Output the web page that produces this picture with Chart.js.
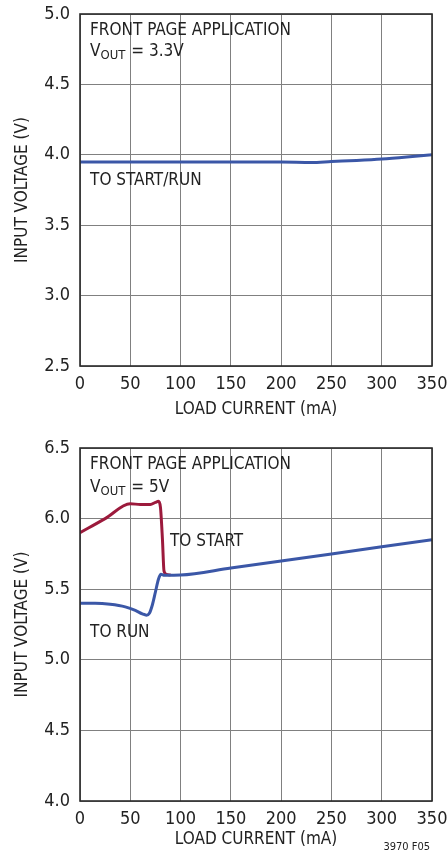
<!DOCTYPE html>
<html>
<head>
<meta charset="utf-8">
<script src="https://cdn.jsdelivr.net/npm/chart.js@4.4.1/dist/chart.umd.min.js"></script>
<style>
  body { margin: 0; background: #fff; }
  canvas { display: block; }
</style>
</head>
<body>
<canvas id="chartTop" width="447" height="425"></canvas>
<canvas id="chartBottom" width="447" height="430"></canvas>
<script>
// top chart: VOUT = 3.3V, START/RUN tied together
var loadCurrent33 = [0, 50, 100, 150, 200, 230, 250, 275, 300, 325, 350];
var vin33 = [3.948, 3.948, 3.948, 3.948, 3.948, 3.945, 3.952, 3.96, 3.97, 3.984, 4.0];

// bottom chart: VOUT = 5V, separate START and RUN thresholds
var startCurrent = [0, 25, 50, 60, 70, 75, 78, 80, 82, 83.5, 86, 90];
var startVolts = [5.9, 6.0, 6.105, 6.1, 6.1, 6.115, 6.122, 6.08, 5.85, 5.63, 5.605, 5.6];
var runCurrent = [0, 15, 30, 45, 55, 62, 66, 69, 72, 75, 78, 80.5, 84, 100, 150, 200, 250, 300, 350];
var runVolts = [5.4, 5.4, 5.393, 5.375, 5.35, 5.325, 5.316, 5.33, 5.39, 5.48, 5.57, 5.605, 5.598, 5.6, 5.65, 5.7, 5.75, 5.8, 5.85];

var xTickValues = [0, 50, 100, 150, 200, 250, 300, 350];

var FONT = '"Liberation Sans Narrow", "DejaVu Sans Condensed", sans-serif';
var BLUE = '#3b57a7';
var RED = '#9c1a3c';

function toPoints(xs, ys) {
    var pts = [];
    for (var i = 0; i < xs.length; i++) pts.push({ x: xs[i], y: ys[i] });
    return pts;
}

// frame + text notes placed in data coordinates
var notesPlugin = {
    id: 'notes',
    afterDraw: function (chart, args, opts) {
        var ctx = chart.ctx;
        var a = chart.chartArea;
        ctx.save();
        ctx.strokeStyle = '#2a2a2a';
        ctx.lineWidth = 1.6;
        ctx.strokeRect(a.left, a.top, a.right - a.left, a.bottom - a.top);
        ctx.fillStyle = '#222';
        ctx.textBaseline = 'middle';
        ctx.textAlign = 'left';
        (opts.items || []).forEach(function (n) {
            var px = chart.scales.x.getPixelForValue(n.x);
            var py = chart.scales.y.getPixelForValue(n.y);
            ctx.font = '17px ' + FONT;
            if (n.sub) {
                ctx.fillText('V', px, py);
                var w = ctx.measureText('V').width;
                ctx.font = '13px ' + FONT;
                ctx.fillText('OUT', px + w, py + 4);
                var w2 = ctx.measureText('OUT').width;
                ctx.font = '17px ' + FONT;
                ctx.fillText(n.text, px + w + w2 + 1, py);
            } else {
                ctx.fillText(n.text, px, py);
            }
        });
        if (opts.footer) {
            ctx.font = '11px ' + FONT;
            ctx.textAlign = 'right';
            ctx.fillText(opts.footer, 430, chart.height - 8);
        }
        ctx.restore();
    }
};

function makeOptions(yMin, yMax, padTop, xHeight, notes, footer) {
    return {
        responsive: false,
        animation: false,
        devicePixelRatio: 1,
        layout: { padding: { top: padTop, right: 15, left: 0, bottom: 0 } },
        plugins: {
            legend: { display: false },
            tooltip: { enabled: false },
            notes: { items: notes, footer: footer }
        },
        elements: { point: { radius: 0 } },
        scales: {
            x: {
                type: 'linear',
                min: 0,
                max: 350,
                afterBuildTicks: function (s) {
                    s.ticks = xTickValues.map(function (v) { return { value: v }; });
                },
                ticks: { font: { family: FONT, size: 18 }, color: '#222', padding: 8, maxRotation: 0, autoSkip: false },
                grid: { color: '#808080', lineWidth: 1, drawTicks: false },
                border: { display: false },
                title: {
                    display: true,
                    text: 'LOAD CURRENT (mA)',
                    font: { family: FONT, size: 17 },
                    color: '#222',
                    padding: { top: 0, bottom: 5 }
                },
                afterFit: function (s) {
                    s.height = xHeight;
                    s.paddingLeft = 0;
                    s.paddingRight = 0;
                }
            },
            y: {
                min: yMin,
                max: yMax,
                ticks: {
                    stepSize: 0.5,
                    font: { family: FONT, size: 18 },
                    color: '#222',
                    padding: 10,
                    callback: function (v) { return v.toFixed(1); }
                },
                grid: { color: '#808080', lineWidth: 1, drawTicks: false },
                border: { display: false },
                title: {
                    display: true,
                    text: 'INPUT VOLTAGE (V)',
                    font: { family: FONT, size: 17 },
                    color: '#222',
                    padding: { top: 12, bottom: 0 }
                },
                afterFit: function (s) {
                    s.width = 80;
                    s.paddingTop = 0;
                    s.paddingBottom = 0;
                }
            }
        }
    };
}

var lineStyle = { borderWidth: 3, fill: false, tension: 0.4, cubicInterpolationMode: 'monotone' };

new Chart(document.getElementById('chartTop'), {
    type: 'line',
    data: {
        datasets: [Object.assign({ label: 'TO START/RUN', data: toPoints(loadCurrent33, vin33), borderColor: BLUE }, lineStyle)]
    },
    options: makeOptions(2.5, 5.0, 14, 59, [
        { x: 10, y: 4.88, text: 'FRONT PAGE APPLICATION' },
        { x: 10, y: 4.73, text: ' = 3.3V', sub: true },
        { x: 10, y: 3.82, text: 'TO START/RUN' }
    ]),
    plugins: [notesPlugin]
});

new Chart(document.getElementById('chartBottom'), {
    type: 'line',
    data: {
        datasets: [
            Object.assign({ label: 'TO RUN', data: toPoints(runCurrent, runVolts), borderColor: BLUE }, lineStyle),
            Object.assign({ label: 'TO START', data: toPoints(startCurrent, startVolts), borderColor: RED }, lineStyle)
        ]
    },
    options: makeOptions(4.0, 6.5, 23, 54, [
        { x: 10, y: 6.38, text: 'FRONT PAGE APPLICATION' },
        { x: 10, y: 6.22, text: ' = 5V', sub: true },
        { x: 89.5, y: 5.84, text: 'TO START' },
        { x: 10, y: 5.19, text: 'TO RUN' }
    ], '3970 F05'),
    plugins: [notesPlugin]
});
</script>
</body>
</html>
